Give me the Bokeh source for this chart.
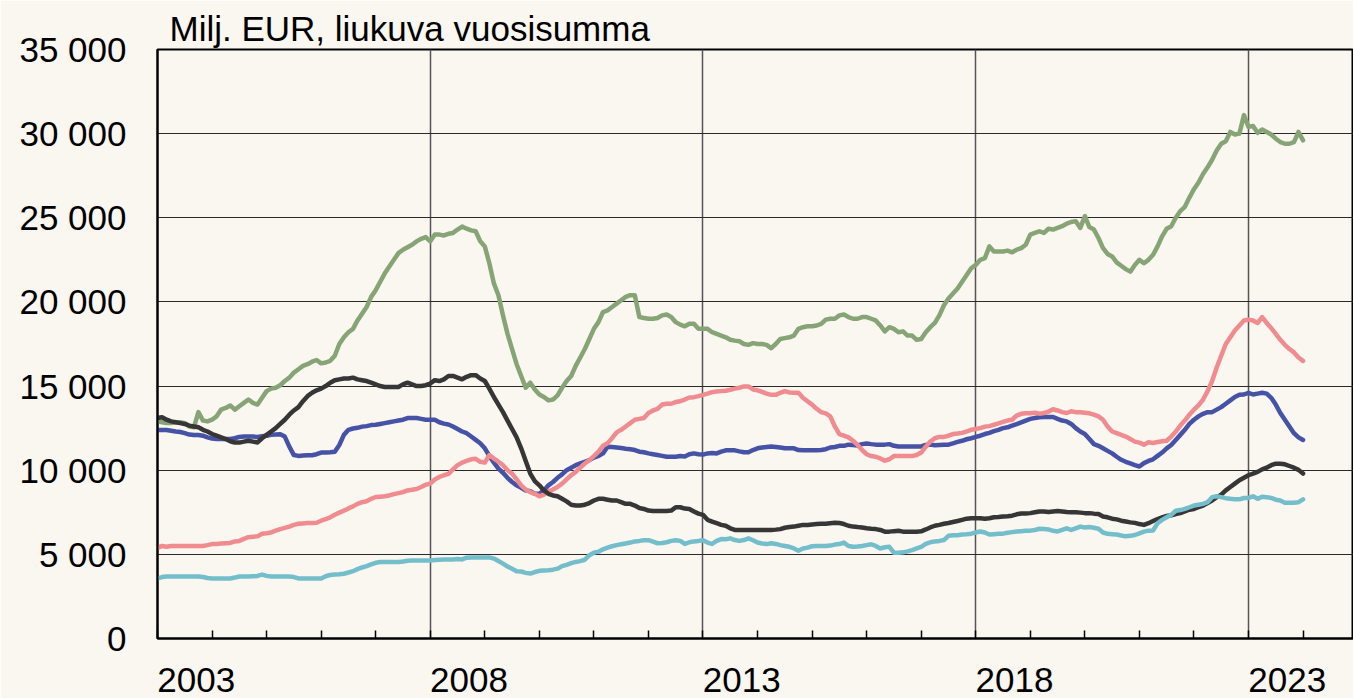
import pandas as pd
from bokeh.plotting import figure
from bokeh.models import FixedTicker, Range1d, CustomJSTickFormatter
from bokeh.embed import file_html
from bokeh.resources import INLINE

# ---------------- data (milj. EUR, rolling 12-month sum), monthly Jan 2003 .. Jan 2024
start_month = "2003-01-01"
end_month = "2024-01-01"

series_green = [
    12900, 12850, 12800, 12800, 12850, 12850, 12800, 12600, 12550, 13450, 12950, 12900,
    13000, 13200, 13600, 13700, 13850, 13600, 13800, 14000, 14200, 14000, 13900, 14300,
    14700, 14850, 14900, 15050, 15300, 15500, 15800, 16000, 16200, 16300, 16450, 16550,
    16350, 16400, 16500, 16800, 17500, 17900, 18200, 18400, 18900, 19300, 19700, 20300,
    20700, 21200, 21700, 22100, 22500, 22900, 23100, 23250, 23400, 23600, 23750, 23850,
    23600, 24000, 24000, 23950, 24050, 24100, 24300, 24480, 24350, 24250, 24200, 23600,
    23300, 22300, 21100, 20400, 19200, 18100, 17200, 16300, 15600, 14900, 15200, 14800,
    14500, 14350, 14150, 14200, 14450, 14900, 15300, 15600, 16200, 16700, 17200, 17800,
    18400, 18800, 19400, 19500, 19700, 19900, 20100, 20300, 20400, 20400, 19100, 19050,
    19000, 19000, 19050, 19200, 19250, 19100, 18800, 18650, 18550, 18700, 18700, 18400,
    18400, 18400, 18200, 18100, 18000, 17900, 17750, 17700, 17660, 17500, 17450, 17550,
    17500, 17500, 17450, 17250, 17500, 17800, 17850, 17900, 18000, 18400, 18500, 18550,
    18550, 18600, 18700, 18950, 19000, 19000, 19200, 19250, 19100, 19000, 19000, 19100,
    19100, 19000, 18900, 18600, 18250, 18500, 18400, 18200, 18250, 18000, 18000, 17750,
    17800, 18200, 18500, 18750, 19200, 19800, 20200, 20500, 20800, 21200, 21600, 22000,
    22200, 22500, 22600, 23300, 23000, 23000, 23000, 23050, 22950, 23100, 23200, 23400,
    24000, 24100, 24200, 24100, 24350, 24300, 24400, 24500, 24650, 24750, 24800, 24400,
    25100, 24450, 24300, 23800, 23200, 22850, 22700, 22350, 22150, 21950, 21800, 22200,
    22500, 22300, 22500, 22800, 23300, 23900, 24350, 24500, 25000, 25400, 25650, 26200,
    26700, 27100, 27600, 28000, 28450, 29000, 29400, 29550, 30100, 29950, 30000, 31100,
    30400, 30450, 30050, 30250, 30100, 29950, 29700, 29500, 29400, 29400, 29500, 30100,
    29600,
]

series_black = [
    13100, 13150, 13000, 12900, 12850, 12800, 12750, 12650, 12600, 12550, 12400, 12300,
    12150, 12050, 11950, 11850, 11720, 11650, 11640, 11700, 11750, 11700, 11650, 11900,
    12100, 12300, 12500, 12750, 13000, 13300, 13550, 13750, 14100, 14400, 14600, 14750,
    14850, 15000, 15200, 15350, 15400, 15450, 15450, 15500, 15400, 15350, 15300, 15200,
    15100, 15000, 14950, 14950, 14950, 14950, 15100, 15200, 15100, 15000, 15000, 15050,
    15150, 15350, 15300, 15400, 15600, 15600, 15500, 15400, 15550, 15650, 15650, 15450,
    15300, 14850, 14350, 13900, 13450, 12950, 12450, 11950, 11300, 10550, 9800, 9350,
    9100, 8800, 8600, 8500, 8450, 8300, 8150, 7950, 7900, 7900, 7950, 8050,
    8200, 8300, 8300, 8250, 8200, 8200, 8100, 8000, 8000, 7900, 7750, 7700,
    7600, 7580, 7580, 7580, 7580, 7600, 7800, 7800, 7720, 7700, 7550, 7420,
    7350, 7050, 6950, 6850, 6750, 6700, 6550, 6450, 6450, 6450, 6450, 6450,
    6450, 6450, 6450, 6450, 6470, 6500, 6580, 6620, 6650, 6700, 6750, 6750,
    6780, 6800, 6820, 6820, 6850, 6880, 6860, 6800, 6700, 6650, 6620, 6600,
    6550, 6520, 6500, 6450, 6350, 6350, 6380, 6400, 6350, 6340, 6350, 6350,
    6370, 6480, 6600, 6700, 6750, 6820, 6860, 6920, 6980, 7050, 7120, 7140,
    7140, 7140, 7120, 7150, 7200, 7220, 7250, 7270, 7300, 7380, 7430, 7430,
    7450, 7500, 7550, 7550, 7520, 7550, 7580, 7550, 7520, 7500, 7500, 7480,
    7450, 7450, 7420, 7400, 7250, 7200, 7120, 7080, 7000, 6950, 6900, 6870,
    6800, 6750, 6850, 6980, 7100, 7200, 7280, 7320, 7400, 7450, 7550, 7650,
    7700, 7800, 7900, 8050, 8200, 8400, 8550, 8800, 9000, 9200, 9400, 9550,
    9700, 9800, 9900, 10050, 10150, 10300, 10390, 10390, 10350, 10250, 10150, 10020,
    9800,
]

series_blue = [
    12390, 12390, 12390, 12350, 12300, 12270, 12200, 12120, 12090, 12090, 12050, 11950,
    11880, 11860, 11860, 11860, 11860, 11900, 11980, 12000, 12000, 12000, 11980, 12020,
    12050, 12100, 12120, 12140, 12000, 11400, 10900, 10850, 10880, 10890, 10890, 10950,
    11050, 11050, 11070, 11100, 11500, 12100, 12400, 12480, 12520, 12590, 12620, 12680,
    12700, 12750, 12800, 12850, 12900, 12950, 13000, 13100, 13100, 13100, 13050, 13000,
    13000, 13000, 12850, 12770, 12720, 12600, 12450, 12300, 12200, 12000, 11800, 11600,
    11300, 10850, 10450, 10100, 9850, 9550, 9300, 9100, 8950, 8800, 8750, 8600,
    8600, 8800, 9100, 9300, 9550, 9750, 10000, 10150, 10300, 10400, 10500, 10600,
    10750, 10850, 11000, 11400, 11380, 11350, 11320, 11280, 11250, 11200, 11100, 11070,
    11000, 10950, 10900, 10850, 10800, 10800, 10800, 10840, 10820, 10950, 11000, 10950,
    10930, 11000, 11020, 11000, 11100, 11180, 11180, 11180, 11120, 11070, 11070, 11200,
    11300, 11350, 11380, 11410, 11380, 11350, 11300, 11300, 11300, 11200, 11180, 11180,
    11180, 11180, 11200, 11250, 11350, 11380, 11450, 11450, 11520, 11500, 11470, 11550,
    11590, 11550, 11520, 11520, 11520, 11550, 11450, 11410, 11410, 11410, 11410, 11410,
    11410, 11500, 11520, 11480, 11500, 11520, 11520, 11600, 11680, 11750, 11840, 11900,
    11980, 12050, 12150, 12220, 12320, 12400, 12500, 12550, 12650, 12740, 12840, 12950,
    13050, 13100, 13150, 13160, 13160, 13160, 13050, 12950, 12900, 12750, 12500, 12300,
    12150, 11850, 11550, 11450, 11300, 11150, 11000, 10800, 10620, 10500, 10400, 10300,
    10220, 10420, 10550, 10650, 10850, 11050, 11300, 11500, 11800, 12100, 12400, 12750,
    13000, 13200, 13350, 13450, 13450, 13600, 13750, 13950, 14150, 14350, 14480, 14500,
    14600, 14500, 14550, 14600, 14550, 14300, 13900, 13400, 13000, 12600, 12200, 11950,
    11800,
]

series_pink = [
    5390, 5500, 5450, 5500, 5500, 5500, 5500, 5500, 5500, 5500, 5500, 5550,
    5610, 5620, 5640, 5660, 5680, 5770, 5800, 5920, 6020, 6050, 6070, 6220,
    6250, 6300, 6410, 6500, 6570, 6650, 6750, 6820, 6840, 6860, 6860, 6880,
    7000, 7100, 7200, 7350, 7480, 7600, 7730, 7850, 8000, 8100, 8160, 8300,
    8410, 8430, 8450, 8500, 8580, 8640, 8700, 8800, 8840, 8880, 9000, 9140,
    9200, 9450, 9600, 9700, 9780, 10050, 10300, 10450, 10550, 10650, 10680, 10500,
    10450, 10900, 10700, 10500, 10300, 10000, 9800, 9450, 9100, 8850, 8700, 8600,
    8450, 8550, 8750, 8850, 9000, 9200, 9450, 9700, 9900, 10150, 10400, 10600,
    10840, 11100, 11450, 11600, 11900, 12250, 12400, 12600, 12800, 13000, 13050, 13100,
    13400, 13550, 13650, 13900, 13950, 13950, 14050, 14100, 14200, 14320, 14340, 14400,
    14480, 14550, 14640, 14680, 14700, 14720, 14780, 14850, 14900, 14980, 14980, 14800,
    14750, 14650, 14550, 14480, 14480, 14600, 14700, 14620, 14600, 14600, 14300, 14100,
    13900, 13650, 13450, 13380, 13200, 12600, 12150, 12050, 11950, 11750, 11500, 11200,
    10950, 10840, 10800, 10700, 10570, 10650, 10840, 10840, 10840, 10840, 10840, 10900,
    11050, 11400, 11700, 11900, 11980, 11980, 12050, 12150, 12180, 12220, 12300, 12400,
    12450, 12500, 12590, 12620, 12700, 12780, 12870, 12950, 13000, 13250, 13350, 13380,
    13380, 13420, 13360, 13400, 13480, 13620, 13550, 13450, 13400, 13500, 13450, 13450,
    13420, 13380, 13300, 13200, 13000, 12600, 12300, 12200, 12100, 12000, 11850, 11700,
    11640, 11520, 11660, 11620, 11680, 11720, 11750, 12000, 12300, 12650, 12950, 13300,
    13600, 13850, 14200, 14700, 15300, 16100, 16800, 17500, 17900, 18300, 18600, 18900,
    18950, 18900, 18750, 19100, 18750, 18450, 18100, 17750, 17450, 17200, 17000, 16700,
    16500,
]

series_cyan = [
    3570, 3650, 3680, 3680, 3680, 3680, 3680, 3680, 3680, 3680, 3650, 3600,
    3570, 3570, 3570, 3570, 3570, 3620, 3680, 3680, 3680, 3700, 3720, 3800,
    3720, 3680, 3680, 3680, 3680, 3680, 3650, 3570, 3570, 3570, 3570, 3570,
    3570, 3700, 3780, 3800, 3820, 3850, 3920, 4000, 4120, 4220, 4300, 4400,
    4500, 4550, 4550, 4550, 4550, 4550, 4580, 4620, 4640, 4640, 4640, 4640,
    4640, 4660, 4680, 4700, 4700, 4700, 4720, 4700, 4800, 4820, 4820, 4820,
    4820, 4820, 4750, 4600, 4450, 4280, 4150, 4000, 3980, 3900, 3860, 3950,
    4020, 4040, 4060, 4090, 4150, 4300, 4380, 4480, 4550, 4600, 4680, 4950,
    5100, 5160, 5300, 5400, 5480, 5550, 5600, 5650, 5700, 5770, 5800, 5840,
    5840, 5750, 5660, 5680, 5720, 5800, 5840, 5800, 5620, 5720, 5770, 5800,
    5840, 5700, 5620, 5800, 5910, 5900, 5950, 5850, 5800, 5850, 5950, 5840,
    5700, 5650, 5610, 5660, 5620, 5550, 5500, 5450, 5350, 5220, 5350, 5400,
    5480, 5500, 5500, 5500, 5520, 5580, 5610, 5700, 5500, 5450, 5470, 5500,
    5550, 5600, 5500, 5350, 5420, 5450, 5100, 5100, 5120, 5180, 5250, 5350,
    5450, 5620, 5720, 5770, 5800, 5850, 6100, 6140, 6140, 6180, 6200, 6230,
    6300, 6360, 6300, 6180, 6200, 6220, 6230, 6280, 6320, 6360, 6380, 6400,
    6410, 6450, 6520, 6500, 6480, 6400, 6360, 6450, 6550, 6450, 6550, 6650,
    6600, 6620, 6580, 6520, 6300, 6220, 6200, 6180, 6120, 6070, 6100, 6150,
    6250, 6350, 6410, 6420, 6850, 7050, 7200, 7350, 7590, 7630, 7700, 7800,
    7900, 7950, 8000, 8100, 8400, 8450, 8400, 8340, 8300, 8280, 8270, 8350,
    8350, 8450, 8300, 8420, 8400, 8350, 8250, 8200, 8070, 8070, 8070, 8100,
    8270,
]

y_ticks = [0, 5000, 10000, 15000, 20000, 25000, 30000, 35000]
y_tick_labels = ["0", "5 000", "10 000", "15 000", "20 000", "25 000", "30 000", "35 000"]
label_years = [2003, 2008, 2013, 2018, 2023]
title_text = "Milj. EUR, liukuva vuosisumma"

# ---------------- styling
BG = "#FAF6F0"
FONT = "Liberation Sans"
COL_GREEN = "#86A476"
COL_BLACK = "#363636"
COL_BLUE = "#4652A6"
COL_PINK = "#F08C90"
COL_CYAN = "#74BECC"

dates = pd.date_range(start_month, end_month, freq="MS")
x = list(dates.year + (dates.month - 1) / 12.0)

p = figure(width=1353, height=698,
           x_range=Range1d(2003, 2024.925), y_range=Range1d(0, 35000),
           output_backend="svg", toolbar_location=None,
           min_border_left=157, min_border_right=0,
           min_border_top=49, min_border_bottom=60,
           background_fill_color=BG, border_fill_color=BG)

p.title.text = title_text
p.title.text_font = FONT
p.title.text_font_size = "35px"
p.title.text_font_style = "normal"
p.title.text_color = "black"
p.title.align = "left"
p.title.offset = 12
p.title.standoff = 4

p.outline_line_color = "black"
p.outline_line_width = 2

# grids
p.xgrid.ticker = FixedTicker(ticks=[2008, 2013, 2018, 2023])
p.xgrid.grid_line_color = "#555555"
p.xgrid.grid_line_width = 1.5
p.ygrid.ticker = FixedTicker(ticks=y_ticks[1:-1])
p.ygrid.grid_line_color = "#2a2a2a"
p.ygrid.grid_line_width = 1

# y axis
p.yaxis.ticker = FixedTicker(ticks=y_ticks)
p.yaxis.major_label_overrides = {t: l for t, l in zip(y_ticks, y_tick_labels)}
p.yaxis.major_tick_in = 0
p.yaxis.major_tick_out = 0
p.yaxis.minor_tick_line_color = None
p.yaxis.axis_line_width = 2
p.yaxis.axis_line_color = "black"
p.yaxis.major_label_standoff = 31
p.yaxis.major_label_text_font = FONT
p.yaxis.major_label_text_font_size = "35px"
p.yaxis.major_label_text_color = "black"

# x axis: year ticks (minor) at year starts, labels placed inside each labelled year
p.xaxis.ticker = FixedTicker(ticks=[yv + 0.71 for yv in label_years],
                             minor_ticks=list(range(2003, 2025)))
p.xaxis.formatter = CustomJSTickFormatter(code="return Math.floor(tick).toString();")
p.xaxis.major_tick_line_color = None
p.xaxis.major_tick_in = 0
p.xaxis.major_tick_out = 0
p.xaxis.minor_tick_in = 8
p.xaxis.minor_tick_out = 0
p.xaxis.minor_tick_line_color = "black"
p.xaxis.minor_tick_line_width = 1.5
p.xaxis.axis_line_width = 2
p.xaxis.axis_line_color = "black"
p.xaxis.major_label_standoff = 29
p.xaxis.major_label_text_font = FONT
p.xaxis.major_label_text_font_size = "35px"
p.xaxis.major_label_text_color = "black"

# lines
for ys, c in [(series_green, COL_GREEN), (series_blue, COL_BLUE), (series_pink, COL_PINK),
              (series_black, COL_BLACK), (series_cyan, COL_CYAN)]:
    p.line(x, ys, line_color=c, line_width=4.5, line_join="round", line_cap="round")

open("out.html", "w").write(file_html(p, INLINE))
